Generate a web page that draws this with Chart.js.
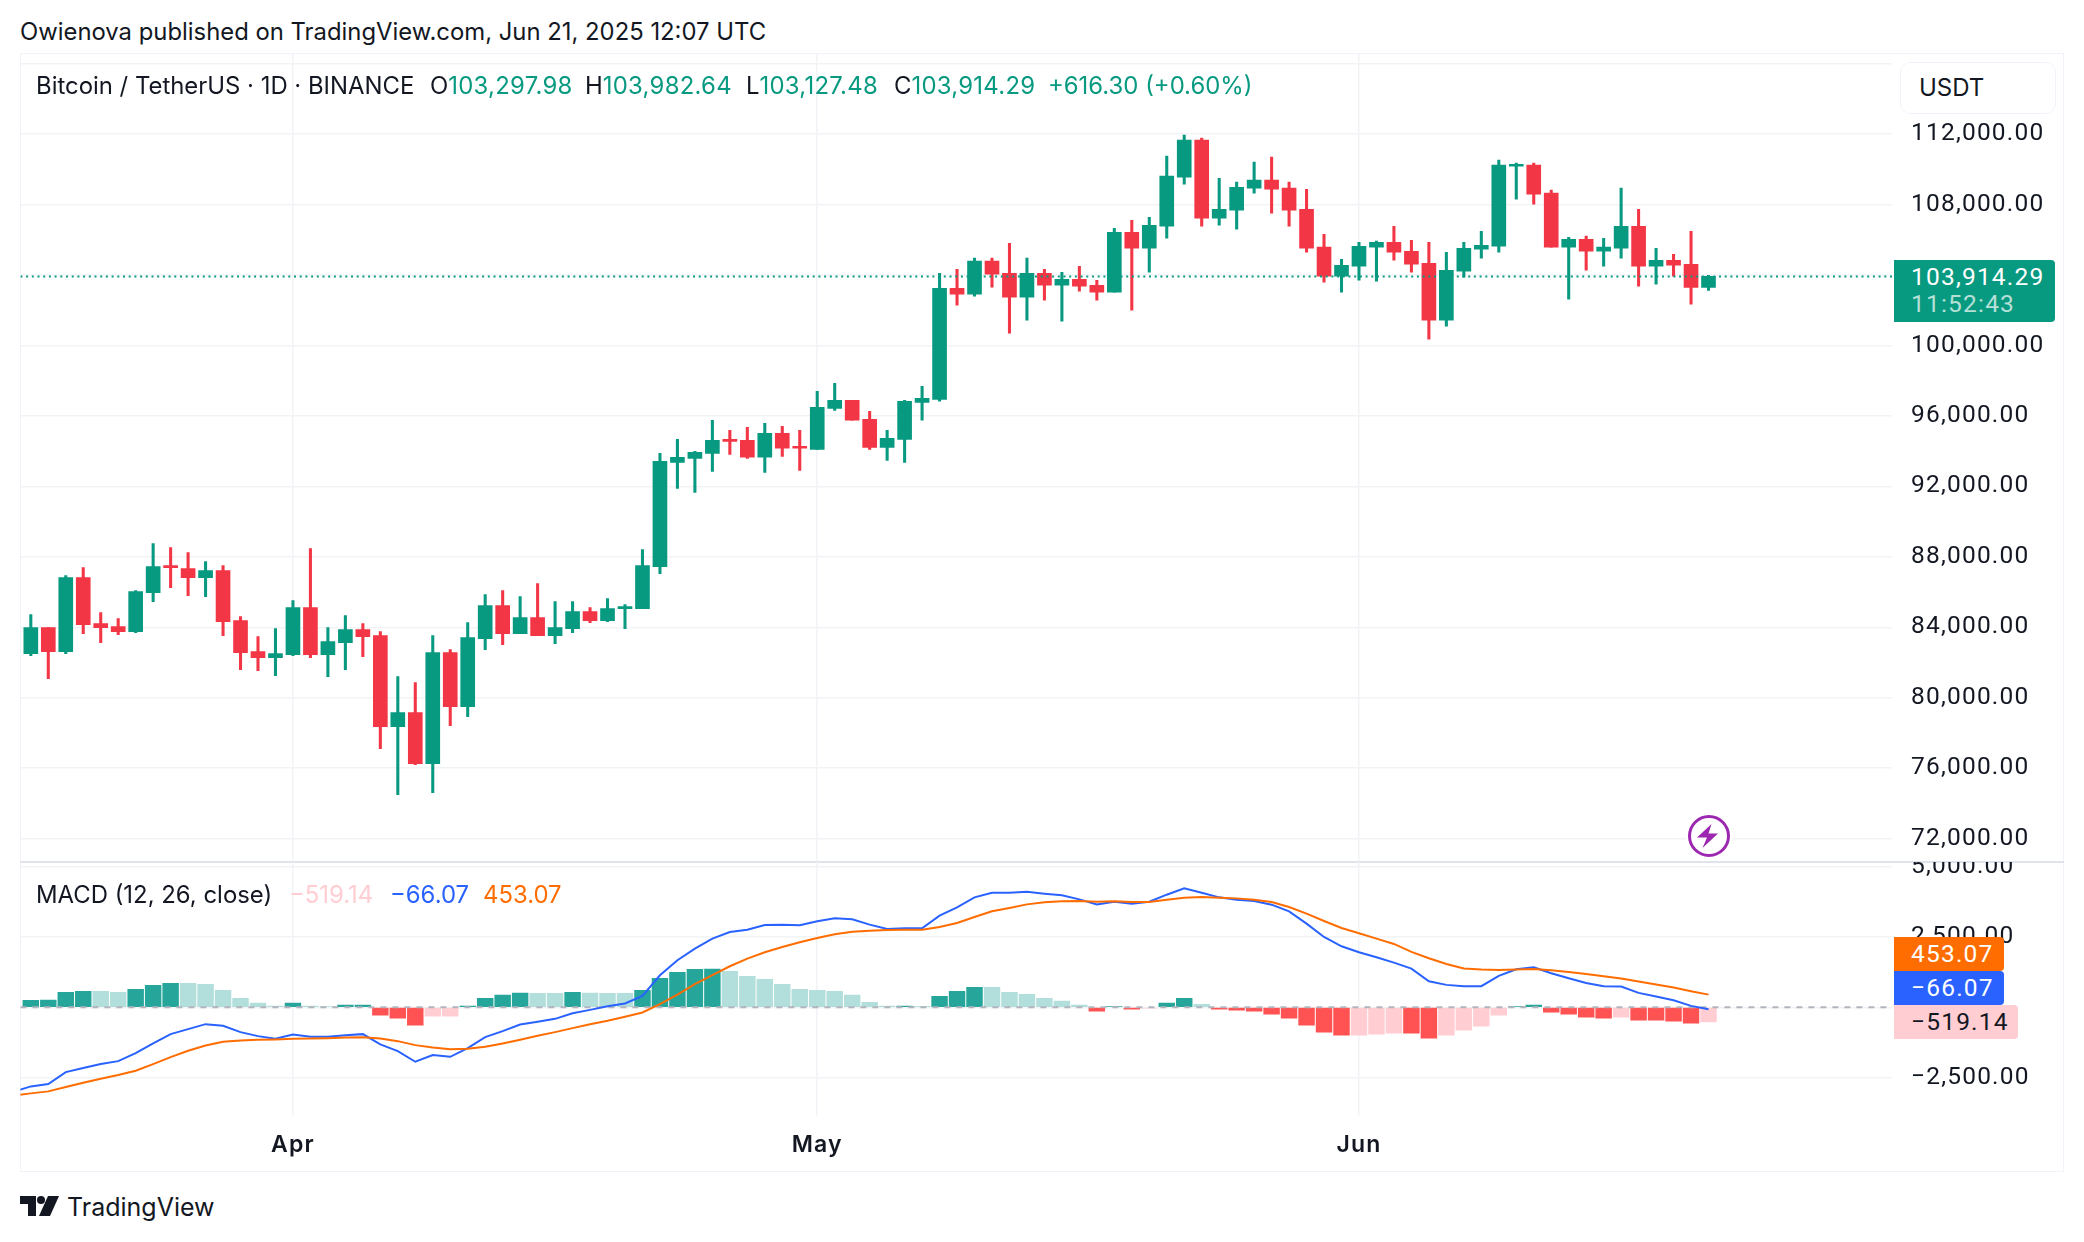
<!DOCTYPE html>
<html><head><meta charset="utf-8">
<script src="https://cdn.jsdelivr.net/npm/chart.js@4"></script>
<style>
html,body{margin:0;padding:0;background:#fff;width:2084px;height:1242px;overflow:hidden;font-family:Inter,sans-serif;color:#131722}
.t{position:absolute;white-space:nowrap;line-height:1}
.t span{color:#089981;letter-spacing:.27px}
.abs{position:absolute}
canvas{position:absolute;left:0}
.tag{position:absolute;left:1894px;font-family:Roboto,sans-serif;font-size:24.5px;letter-spacing:1.2px;line-height:1;border-radius:0 4px 4px 0;box-sizing:border-box;padding-left:17px;display:flex;align-items:center}
</style></head><body>
<div class="abs" style="left:20px;top:53px;width:2044px;height:1119px;border:1.5px solid #f0f3fa;box-sizing:border-box"></div>
<div class="abs" style="left:20px;top:860.5px;width:2044px;height:2px;background:#e0e3eb"></div>
<canvas id="price" width="2084" height="807" style="top:54px;width:2084px;height:807px"></canvas>
<canvas id="macd" width="2084" height="310" style="top:862px;width:2084px;height:310px"></canvas>

<div class="t" style="left:20px;top:20px;font-size:23.85px">Owienova published on TradingView.com, Jun 21, 2025 12:07 UTC</div>

<div class="t" style="left:36px;top:74px;font-size:23.9px">Bitcoin / TetherUS · 1D · BINANCE</div>
<div class="t" style="left:430px;top:74px;font-size:23.9px">O<span>103,297.98</span></div>
<div class="t" style="left:585px;top:74px;font-size:23.9px">H<span>103,982.64</span></div>
<div class="t" style="left:746px;top:74px;font-size:23.9px">L<span>103,127.48</span></div>
<div class="t" style="left:894px;top:74px;font-size:23.9px">C<span>103,914.29</span></div>
<div class="t" style="left:1048px;top:74px;font-size:23.9px;color:#089981">+616.30 (+0.60%)</div>

<div class="abs" style="left:1900px;top:62px;width:156px;height:52px;border:1.5px solid #f0f3fa;border-radius:10px;background:#fff;box-sizing:border-box"></div>
<div class="t" style="left:1919px;top:76px;font-size:24px">USDT</div>

<div class="tag" style="top:260px;width:161px;height:62px;background:#089981;color:#fff;display:block;padding-top:2.5px">
  <div style="line-height:27px">103,914.29</div><div style="line-height:27px;color:#b5e0d7">11:52:43</div></div>

<div class="t" style="left:36px;top:883px;font-size:23.9px">MACD (12, 26, close)</div>
<div class="t" style="left:289px;top:883px;font-size:23.9px;color:#ffcdd2">−519.14</div>
<div class="t" style="left:390px;top:883px;font-size:23.9px;color:#2962ff">−66.07</div>
<div class="t" style="left:483px;top:883px;font-size:23.9px;color:#ff6d00">453.07</div>

<div class="tag" style="top:937px;width:110px;height:34px;background:#ff6d00;color:#fff">453.07</div>
<div class="tag" style="top:971px;width:110px;height:34px;background:#2962ff;color:#fff">−66.07</div>
<div class="tag" style="top:1005px;width:124px;height:34px;background:#ffcdd2;color:#131722">−519.14</div>

<svg class="abs" style="left:1684px;top:810.5px" width="50" height="50" viewBox="0 0 50 50">
  <circle cx="25" cy="25" r="23" fill="#fff"/>
  <circle cx="25" cy="25" r="19.5" fill="#fff" stroke="#9c27b0" stroke-width="3"/>
  <path d="M27.5 13 L13 26.5 H23 L18.5 37 L34 22.5 H24.5 Z" fill="#9c27b0"/>
</svg>

<svg class="abs" style="left:20px;top:1196px" width="40" height="21" viewBox="0 0 40 21">
  <path d="M0 0 H16 V20 H8 V8 H0 Z" fill="#131722"/><circle cx="21" cy="4" r="4" fill="#131722"/>
  <path d="M28 0 H39 L30 20 H19 Z" fill="#131722"/>
</svg>
<div class="t" style="left:67px;top:1195px;font-size:25px;font-weight:400">TradingView</div>

<script>
const days=['Mar 17','Mar 18','Mar 19','Mar 20','Mar 21','Mar 22','Mar 23','Mar 24','Mar 25','Mar 26','Mar 27','Mar 28','Mar 29','Mar 30','Mar 31','Apr 1','Apr 2','Apr 3','Apr 4','Apr 5','Apr 6','Apr 7','Apr 8','Apr 9','Apr 10','Apr 11','Apr 12','Apr 13','Apr 14','Apr 15','Apr 16','Apr 17','Apr 18','Apr 19','Apr 20','Apr 21','Apr 22','Apr 23','Apr 24','Apr 25','Apr 26','Apr 27','Apr 28','Apr 29','Apr 30','May 1','May 2','May 3','May 4','May 5','May 6','May 7','May 8','May 9','May 10','May 11','May 12','May 13','May 14','May 15','May 16','May 17','May 18','May 19','May 20','May 21','May 22','May 23','May 24','May 25','May 26','May 27','May 28','May 29','May 30','May 31','Jun 1','Jun 2','Jun 3','Jun 4','Jun 5','Jun 6','Jun 7','Jun 8','Jun 9','Jun 10','Jun 11','Jun 12','Jun 13','Jun 14','Jun 15','Jun 16','Jun 17','Jun 18','Jun 19','Jun 20','Jun 21'];
const opens=[82505,83980,82618,86820,84210,84040,83755,85970,87500,87330,86820,87220,84380,82618,82280,82450,85115,82450,83130,83870,83525,78360,79155,76260,82560,79495,83355,85230,83640,84550,83525,83925,84890,84380,85060,85060,87445,93365,93590,93875,94670,94610,93650,95010,94270,94100,96430,96885,95805,94215,94670,96770,96940,103245,102905,104780,104095,102735,104095,103415,103755,103415,103015,106425,105515,106765,109550,111650,107220,107675,108925,109380,108925,107730,105575,103925,104495,105575,105855,105345,104665,101430,104210,105460,105630,110175,110230,108640,105575,106025,105345,105515,106765,104495,104835,104605,103297.98];
const highs=[84720,83980,86934,87390,84830,84490,86080,88750,88525,88240,87730,87500,84605,83470,83925,85515,88470,83980,84660,84210,83755,81200,80860,83525,82730,84265,85855,86080,85740,86480,85460,85460,85115,85630,85285,88410,93874,94670,93990,95750,95180,95350,95580,95405,95180,97395,97850,96885,96260,95180,96885,97680,104095,104325,104950,104950,105800,104950,104325,104155,104495,103700,106650,107105,107275,110740,111935,111765,109490,109265,110400,110685,109265,108865,106310,104890,105855,105915,106765,105970,105855,105290,105855,106480,110515,110345,110345,108810,106140,106200,106085,108925,107730,105515,105175,106480,103982.64];
const lows=[82390,81085,82505,83640,83130,83585,83700,85460,86250,85800,85740,83525,81595,81540,81255,82390,82280,81200,81595,82335,77110,74500,76200,74610,78415,78925,82730,83015,83640,83525,83070,83700,84265,84320,83925,85060,87050,91885,91660,92850,93815,93590,92795,93705,92910,94100,96315,95750,94100,93475,93365,95750,96830,102280,102790,103300,100690,101430,102565,101370,103075,102565,103015,101995,104155,106085,109150,106765,106820,106595,108640,107505,106765,105290,103585,103015,103700,103640,104835,104155,100350,101085,103870,104950,105290,108300,108015,105575,102620,104265,104495,104950,103360,103470,103925,102335,103127.48];
const closes=[83980,82618,86820,84150,83980,83755,86025,87445,87390,86820,87220,84320,82560,82280,82505,85115,82450,83185,83870,83470,78360,79155,76260,82560,79495,83415,85230,83640,84550,83525,83980,84890,84380,85060,85175,87500,93420,93650,93930,94610,94555,93650,95010,94160,94160,96485,96885,95750,94215,94725,96830,97000,103245,102905,104780,104040,102735,104095,103415,103755,103360,103015,106425,105515,106820,109605,111650,107220,107730,108980,109380,108865,107675,105515,103925,104550,105630,105855,105290,104605,101430,104265,105515,105685,110230,110285,108585,105575,106025,105345,105575,106765,104495,104835,104550,103297.98,103914.29];
const histogram=[250,258,538,574,570,538,645,787,858,852,822,609,325,148,41,148,41,30,77,85,-278,-385,-633,-313,-310,41,325,432,510,503,498,538,505,500,495,609,1035,1248,1350,1360,1284,1106,1000,822,645,609,574,432,183,41,48,35,396,574,716,710,538,467,325,219,77,-136,30,-65,-30,148,325,112,-65,-100,-136,-243,-385,-633,-881,-988,-985,-952,-915,-920,-1094,-988,-810,-668,-278,30,77,-172,-243,-349,-385,-349,-455,-458,-491,-562,-519.14];
// first value belongs to the session before days[0], it runs off the left edge
const macdLine=[-2999,-2810,-2727,-2301,-2159,-2017,-1911,-1627,-1284,-952,-775,-597,-657,-881,-1023,-1118,-964,-1047,-1047,-988,-952,-1319,-1556,-1934,-1698,-1757,-1449,-1059,-846,-609,-515,-408,-207,-89,41,136,408,1142,1674,2088,2443,2679,2762,2928,2940,2916,3058,3165,3129,2940,2786,2810,2810,3259,3555,3910,4075,4075,4111,4040,3981,3839,3661,3756,3685,3756,4005,4229,4075,3910,3827,3780,3650,3413,2975,2502,2171,1958,1780,1591,1378,929,799,751,751,1118,1355,1425,1213,1035,869,751,739,515,384,254,53,-66.07];
const signalLine=[-3141,-3058,-2987,-2833,-2680,-2537,-2407,-2254,-2017,-1769,-1544,-1355,-1224,-1177,-1153,-1142,-1118,-1106,-1094,-1071,-1059,-1106,-1201,-1343,-1426,-1485,-1473,-1402,-1284,-1153,-1011,-881,-739,-597,-479,-337,-183,112,455,822,1142,1461,1733,1958,2147,2313,2467,2597,2691,2727,2750,2762,2762,2857,2999,3212,3413,3531,3661,3732,3768,3780,3756,3768,3744,3744,3827,3898,3922,3898,3874,3827,3744,3567,3330,3070,2822,2632,2443,2254,1970,1745,1544,1378,1343,1331,1343,1366,1319,1260,1189,1106,1023,917,810,704,574,453.07];
const lastPrice=[103914.29];
const priceTicks=[116000,112000,108000,104000,100000,96000,92000,88000,84000,80000,76000,72000];
const macdTicks=[5000,2500,0,-2500];
const hiddenTickLabels=[116000,104000,0];
const monthNames=['Apr','May','Jun'];
const monthStarts=['Apr 1','May 1','Jun 1'];

const UP='#089981',DOWN='#f23645',FONT='Inter',GRID='#f2f3f5';
const XMIN=-0.596,XMAX=106.5;
const monthIdx=monthStarts.map(d=>days.indexOf(d));
const fmt=v=>hiddenTickLabels.includes(v)?'':v.toLocaleString('en-US',{minimumFractionDigits:2,maximumFractionDigits:2}).replace('-','−');
const candleColor=c=>{const i=c.dataIndex;return closes[i]>=opens[i]?UP:DOWN};
const wicks=days.map((d,i)=>({x:i,y:[lows[i],highs[i]]}));
const bodies=days.map((d,i)=>({x:i,y:[opens[i],closes[i]]}));
const histColor=c=>{const i=c.dataIndex,v=histogram[i],p=i?histogram[i-1]:-Infinity;
  return v>=0?(v>=p?'#26a69a':'#b2dfdb'):(v<p?'#ff5252':'#ffcdd2')};

function xAxis(showLabels,height){return{type:'linear',min:XMIN,max:XMAX,offset:false,
  afterBuildTicks(s){s.ticks=monthIdx.map(v=>({value:v}))},
  afterFit(s){s.height=height},
  grid:{color:'#f2f3f6',lineWidth:1.5,drawTicks:false,offset:false},border:{display:false},
  ticks:{display:showLabels,autoSkip:false,maxRotation:0,padding:15,color:'#131722',
    font:{family:FONT,size:23,weight:'600'},callback:(v,i)=>monthNames[i]}}}
function yAxis(min,max,list){return{type:'linear',position:'right',min,max,
  afterBuildTicks(s){s.ticks=list.map(v=>({value:v}))},
  afterFit(s){s.width=192;s.paddingTop=0;s.paddingBottom=0},
  grid:{color:GRID,lineWidth:1.5,drawTicks:false},border:{display:false},
  ticks:{autoSkip:false,padding:19,color:'#131722',font:{family:'Roboto',size:24.5},callback:v=>fmt(v)}}}
const spacedLabels={id:'spacedLabels',beforeDraw(chart){chart.ctx.letterSpacing='1.2px'},
  beforeDatasetsDraw(chart){chart.ctx.letterSpacing='0px'}};
const base={responsive:false,animation:false,events:[],layout:{padding:{left:20.4,right:0,top:0,bottom:0}},
  plugins:{legend:{display:false},tooltip:{enabled:false}}};

new Chart(document.getElementById('price'),{plugins:[spacedLabels],data:{datasets:[
  {type:'line',data:[{x:XMIN,y:lastPrice[0]},{x:XMAX,y:lastPrice[0]}],borderColor:UP,borderWidth:2,borderDash:[2,3.7],pointRadius:0,order:0},
  {type:'bar',data:bodies,backgroundColor:candleColor,barThickness:14,grouped:false,order:1},
  {type:'bar',data:wicks,backgroundColor:candleColor,barThickness:2.4,grouped:false,order:2}
]},options:{...base,scales:{x:xAxis(false,0),y:yAxis(70734,116541,priceTicks)}}});

new Chart(document.getElementById('macd'),{plugins:[spacedLabels],data:{datasets:[
  {type:'line',data:[{x:XMIN,y:0},{x:XMAX,y:0}],borderColor:'#b2b5be',borderWidth:2,borderDash:[6,6],pointRadius:0,order:1},
  {type:'line',data:signalLine.map((v,i)=>({x:i-1,y:v})),borderColor:'#ff6d00',borderWidth:2,pointRadius:0,order:0},
  {type:'line',data:macdLine.map((v,i)=>({x:i-1,y:v})),borderColor:'#2962ff',borderWidth:2,pointRadius:0,order:0.5},
  {type:'bar',data:days.map((d,i)=>({x:i,y:histogram[i]})),backgroundColor:histColor,barThickness:15.8,grouped:false,order:2}
]},options:{...base,scales:{x:xAxis(true,56),y:yAxis(-3862,5167,macdTicks)}}});
</script>
</body></html>
